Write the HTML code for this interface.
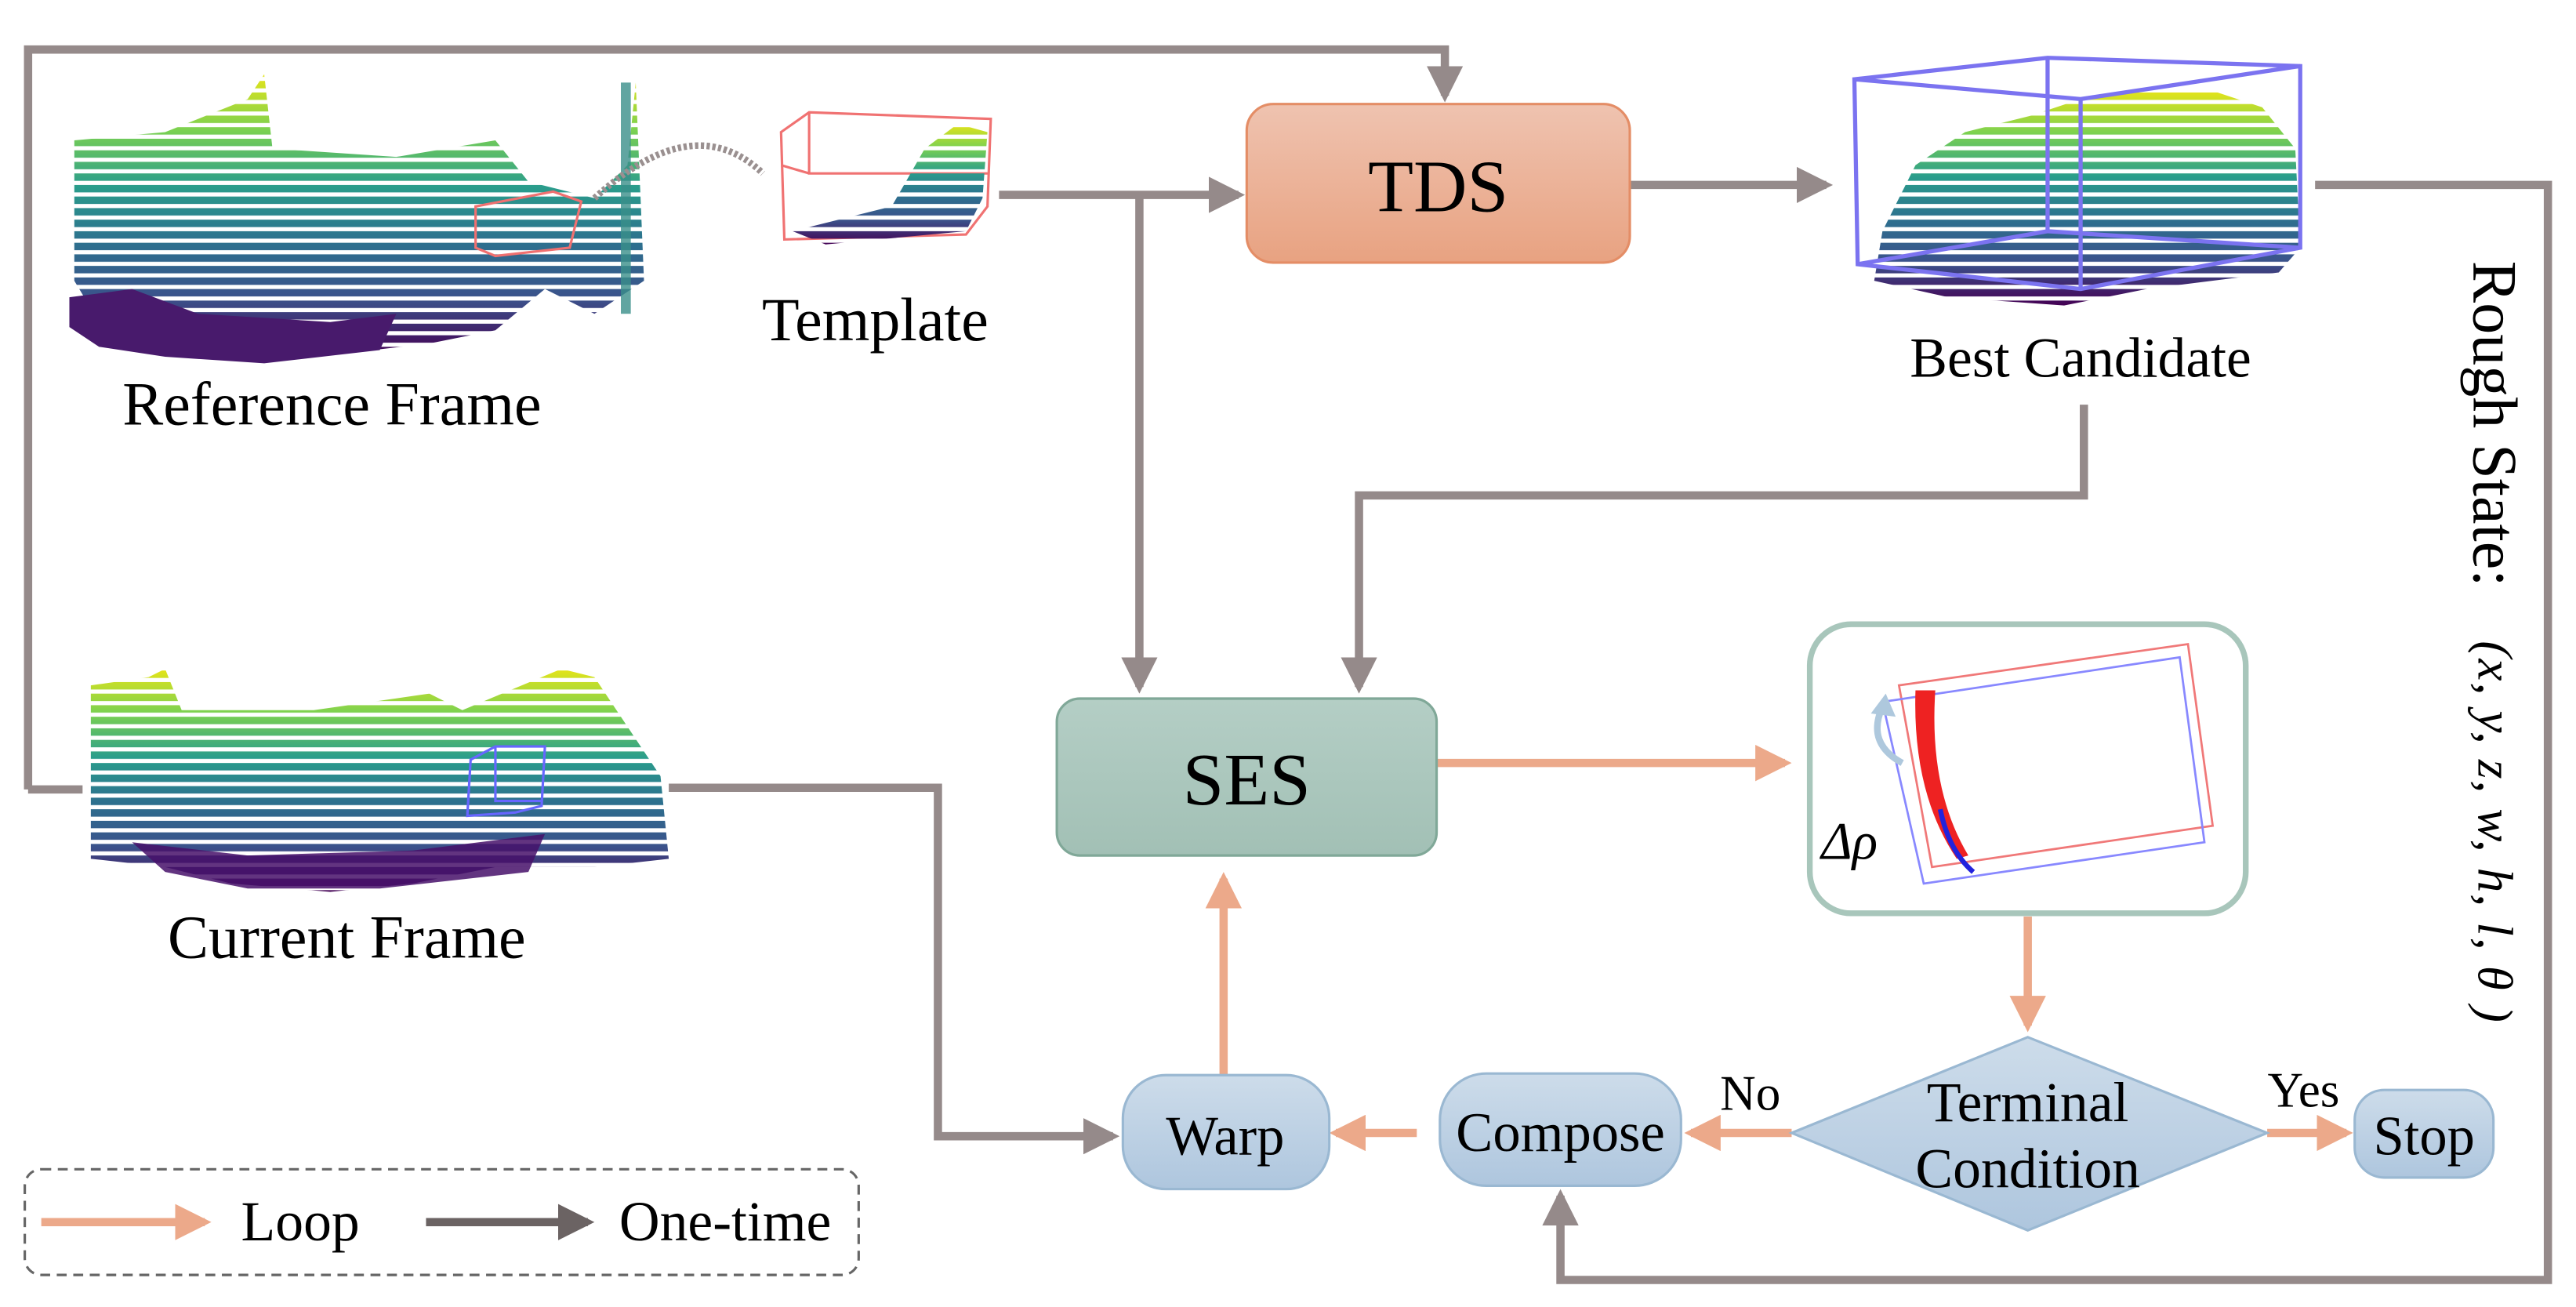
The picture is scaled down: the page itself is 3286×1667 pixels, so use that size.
<!DOCTYPE html>
<html><head><meta charset="utf-8"><style>html,body{margin:0;padding:0;background:#fff}svg{display:block}</style></head>
<body>
<svg width="3286" height="1667" viewBox="0 0 1560 791.4" xmlns="http://www.w3.org/2000/svg" style="font-family:'Liberation Serif', serif">
<defs>
<marker id="ag" markerWidth="4.4" markerHeight="4.4" refX="3.6" refY="2.2" orient="auto" markerUnits="strokeWidth"><path d="M0,0 L4.4,2.2 L0,4.4 z" fill="#958a8a"/></marker>
<marker id="ao" markerWidth="4.4" markerHeight="4.4" refX="3.6" refY="2.2" orient="auto" markerUnits="strokeWidth"><path d="M0,0 L4.4,2.2 L0,4.4 z" fill="#eca98a"/></marker>
<marker id="ad" markerWidth="4.4" markerHeight="4.4" refX="3.6" refY="2.2" orient="auto" markerUnits="strokeWidth"><path d="M0,0 L4.4,2.2 L0,4.4 z" fill="#6b6363"/></marker>
<linearGradient id="vir" x1="0" y1="0" x2="0" y2="1">
<stop offset="0" stop-color="#e5e419"/><stop offset="0.2" stop-color="#7ad151"/><stop offset="0.4" stop-color="#2a9d8c"/><stop offset="0.6" stop-color="#2d708e"/><stop offset="0.8" stop-color="#3b528b"/><stop offset="1" stop-color="#440154"/></linearGradient>
<linearGradient id="tds" x1="0" y1="0" x2="0" y2="1"><stop offset="0" stop-color="#efc3b0"/><stop offset="1" stop-color="#e8a281"/></linearGradient>
<linearGradient id="ses" x1="0" y1="0" x2="0" y2="1"><stop offset="0" stop-color="#b4cec5"/><stop offset="1" stop-color="#a2c0b5"/></linearGradient>
<linearGradient id="blu" x1="0" y1="0" x2="0" y2="1"><stop offset="0" stop-color="#cddcea"/><stop offset="1" stop-color="#aec6de"/></linearGradient>
<pattern id="stripe" width="10" height="7" patternUnits="userSpaceOnUse"><rect width="10" height="4.5" fill="#fff"/></pattern>
<mask id="sm"><rect x="0" y="0" width="1560" height="800" fill="url(#stripe)"/></mask>
</defs>

<!-- Reference frame cloud -->
<g mask="url(#sm)">
<path d="M45,85 L100,80 L150,60 L160,45 L165,90 L240,95 L300,85 L320,110 L360,120 L380,100 L385,50 L390,170 L360,190 L330,175 L300,200 L260,208 L200,215 L140,212 L100,200 L60,195 L45,170 Z" fill="url(#vir)"/>
</g>
<path d="M42,180 L80,175 L120,190 L200,195 L240,190 L230,212 L160,220 L100,216 L60,210 L42,198Z" fill="#481a6c"/>
<rect x="376" y="50" width="6" height="140" fill="#3a8f8a" opacity="0.8"/>
<path d="M288,125 L335,116 L352,122 L345,150 L300,155 L288,150Z" fill="none" stroke="#f07070" stroke-width="1.5"/>
<path d="M360,120 Q420,65 462,105" fill="none" stroke="#9a9090" stroke-width="4" stroke-dasharray="2,1.5"/>
<!-- Template -->
<path d="M473,80 L490,68 L600,72 L598,125 L585,142 L475,145 Z M490,68 L490,105 L598,105 M473,100 L490,105" fill="none" stroke="#f07272" stroke-width="1.5"/>
<g mask="url(#sm)"><path d="M480,140 L540,125 L560,90 L580,75 L598,80 L595,120 L585,140 L500,148Z" fill="url(#vir)"/></g>
<text x="530" y="206" font-size="37" text-anchor="middle">Template</text>
<text x="201" y="257" font-size="37" text-anchor="middle">Reference Frame</text>

<!-- Current frame cloud -->
<g mask="url(#sm)">
<path d="M55,415 L90,410 L100,405 L110,430 L190,430 L260,420 L280,430 L340,405 L360,410 L400,470 L405,520 L360,525 L300,525 L250,535 L200,540 L140,535 L100,525 L55,520 Z" fill="url(#vir)"/>
</g>
<path d="M80,510 L150,518 L250,515 L330,505 L320,528 L230,538 L150,538 L100,528Z" fill="#46116a" opacity="0.85"/>
<path d="M285,460 L300,452 L330,452 L328,488 L312,492 L283,494Z M300,452 L300,485 L328,485" fill="none" stroke="#6666ff" stroke-width="1.5"/>
<text x="210" y="580" font-size="37" text-anchor="middle">Current Frame</text>

<!-- Best candidate -->
<g mask="url(#sm)"><path d="M1135,170 L1140,140 L1160,100 L1190,80 L1230,70 L1260,60 L1300,55 L1340,55 L1370,65 L1390,90 L1393,150 L1380,165 L1300,175 L1250,185 L1180,180Z" fill="url(#vir)"/></g>
<path d="M1123,48 L1240,35 L1393,40 L1393,150 L1260,175 L1125,160 Z M1240,35 L1240,140 L1393,150 M1125,160 L1240,140 M1123,48 L1260,60 L1393,40 M1260,60 L1260,175" fill="none" stroke="#7b73f0" stroke-width="2.5"/>
<text x="1260" y="228" font-size="34" text-anchor="middle">Best Candidate</text>

<!-- Gray connectors -->
<g fill="none" stroke="#958a8a" stroke-width="5">
<path d="M17,478 L17,30 L875,30 L875,58" marker-end="url(#ag)"/>
<path d="M17,478 L50,478"/>
<path d="M605,118 L750,118" marker-end="url(#ag)"/>
<path d="M690,118 L690,416" marker-end="url(#ag)"/>
<path d="M987,112 L1106,112" marker-end="url(#ag)"/>
<path d="M1402,112 L1543,112 L1543,775 L945,775 L945,724" marker-end="url(#ag)"/>
<path d="M1262,245 L1262,300 L823,300 L823,416" marker-end="url(#ag)"/>
<path d="M405,477 L568,477 L568,688 L674,688" marker-end="url(#ag)"/>
</g>
<!-- Orange connectors -->
<g fill="none" stroke="#eca98a" stroke-width="5">
<path d="M870,462 L1081,462" marker-end="url(#ao)"/>
<path d="M1228,555 L1228,621" marker-end="url(#ao)"/>
<path d="M1085,686 L1024,686" marker-end="url(#ao)"/>
<path d="M858,686 L809,686" marker-end="url(#ao)"/>
<path d="M741,652 L741,532" marker-end="url(#ao)"/>
<path d="M1373,686 L1421,686" marker-end="url(#ao)"/>
</g>

<!-- TDS -->
<rect x="755" y="63" width="232" height="96" rx="16" fill="url(#tds)" stroke="#e48d66" stroke-width="1.5"/>
<text x="871" y="128" font-size="45" text-anchor="middle">TDS</text>
<!-- SES -->
<rect x="640" y="423" width="230" height="95" rx="14" fill="url(#ses)" stroke="#80a898" stroke-width="1.5"/>
<text x="755" y="487" font-size="45" text-anchor="middle">SES</text>

<!-- Result box -->
<rect x="1096" y="378" width="264" height="175" rx="25" fill="#fff" stroke="#a8c6bb" stroke-width="3.5"/>
<path d="M1150,415 L1325,390 L1340,500 L1170,525Z" fill="none" stroke="#f07878" stroke-width="1.3"/>
<path d="M1140,425 L1320,398 L1335,510 L1165,535Z" fill="none" stroke="#8888ff" stroke-width="1.3"/>
<path d="M1160,418 Q1158,480 1185,520 L1192,518 Q1168,478 1172,418Z" fill="#ee2222"/>
<path d="M1175,490 Q1180,515 1195,528" stroke="#2222dd" stroke-width="3" fill="none"/>
<path d="M1152,462 Q1130,450 1140,428" fill="none" stroke="#aec8dd" stroke-width="4"/>
<path d="M1133,432 L1142,420 L1148,434Z" fill="#aec8dd"/>
<text x="1120" y="520" font-size="32" text-anchor="middle" font-style="italic">Δρ</text>

<!-- Diamond -->
<path d="M1228,628 L1373,686 L1228,745 L1085,686Z" fill="url(#blu)" stroke="#9ab8d2" stroke-width="1.5"/>
<text x="1228" y="679" font-size="34" text-anchor="middle">Terminal</text>
<text x="1228" y="719" font-size="34" text-anchor="middle">Condition</text>
<text x="1060" y="672" font-size="30" text-anchor="middle">No</text>
<text x="1395" y="670" font-size="30" text-anchor="middle">Yes</text>

<rect x="872" y="650" width="146" height="68" rx="28" fill="url(#blu)" stroke="#9ab8d2" stroke-width="1.5"/>
<text x="945" y="697" font-size="33.5" text-anchor="middle">Compose</text>
<rect x="680" y="651" width="125" height="69" rx="26" fill="url(#blu)" stroke="#9ab8d2" stroke-width="1.5"/>
<text x="742" y="699" font-size="33.5" text-anchor="middle">Warp</text>
<rect x="1426" y="660" width="84" height="53" rx="18" fill="url(#blu)" stroke="#9ab8d2" stroke-width="1.5"/>
<text x="1468" y="699" font-size="33.5" text-anchor="middle">Stop</text>

<!-- Rough state -->
<text transform="translate(1498,158) rotate(90)" font-size="38">Rough State:</text>
<text transform="translate(1501,388) rotate(90)" font-size="30" font-style="italic" letter-spacing="1">(x, y, z, w, h, l, θ )</text>

<!-- Legend -->
<rect x="15" y="708" width="505" height="64" rx="10" fill="none" stroke="#666" stroke-width="1.5" stroke-dasharray="6,4"/>
<path d="M25,740 L124,740" stroke="#eca98a" stroke-width="5" marker-end="url(#ao)"/>
<text x="146" y="751" font-size="34">Loop</text>
<path d="M258,740 L356,740" stroke="#6b6363" stroke-width="5" marker-end="url(#ad)"/>
<text x="375" y="751" font-size="34">One-time</text>
</svg>
</body></html>
